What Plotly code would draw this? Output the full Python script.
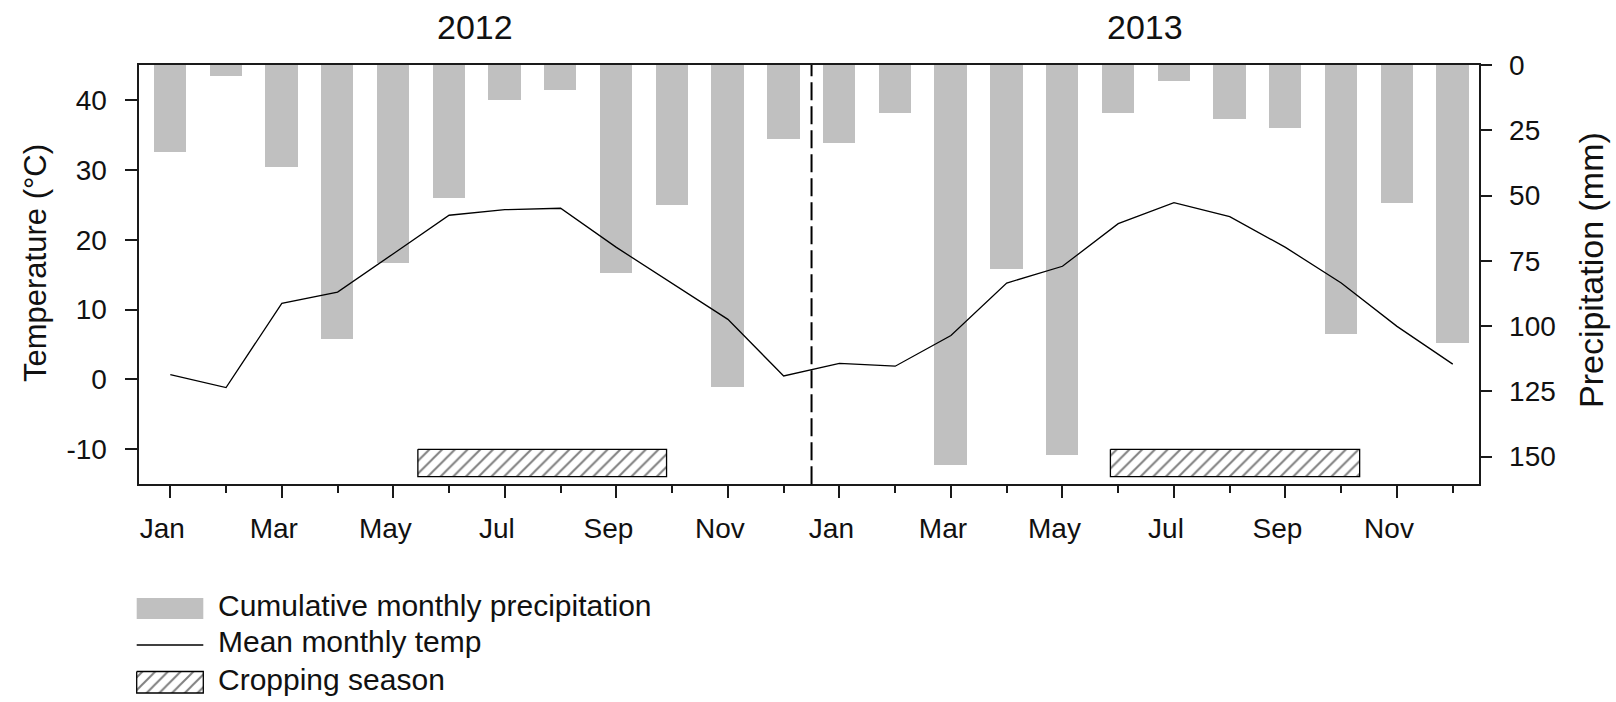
import plotly.graph_objects as go

# ---------------- data ----------------
month_labels = ["Jan", "Feb", "Mar", "Apr", "May", "Jun", "Jul", "Aug", "Sep", "Oct", "Nov", "Dec"]
years = ["2012", "2013"]
precip_2012 = [33.4, 4.2, 38.9, 104.9, 75.7, 51.1, 13.5, 9.5, 79.8, 53.7, 123.2, 28.2]
precip_2013 = [29.7, 18.3, 153.3, 78.0, 149.5, 18.5, 6.0, 20.8, 24.1, 103.0, 52.7, 106.6]
temp_2012 = [0.7, -1.15, 10.9, 12.5, 18.0, 23.5, 24.3, 24.5, 18.9, 13.7, 8.6, 0.5]
temp_2013 = [2.3, 1.9, 6.3, 13.8, 16.2, 22.3, 25.3, 23.3, 18.9, 13.8, 7.6, 2.2]
crop_start = [4.44, 16.86]   # month index (0 = Jan 2012)
crop_end = [8.90, 21.33]
crop_band = [-10.0, -13.9]    # temperature-axis band for the season boxes
year_split = 11.5
temp_ticks = [-10, 0, 10, 20, 30, 40]
temp_tick_text = ["-10", "0", "10", "20", "30", "40"]
precip_ticks = [0, 25, 50, 75, 100, 125, 150]

x_idx = list(range(24))
precip = precip_2012 + precip_2013
temp = temp_2012 + temp_2013
tick_idx = x_idx[::2]
tick_text = (month_labels * 2)[::2]

W, H = 1616, 702
L, R, T, B = 139.3, 1478.7, 65.0, 484.3
FONT = "Liberation Sans, Arial, sans-serif"
TXT = "#111111"
AX = "#1a1a1a"
GRAY = "#c0c0c0"
HATCH = dict(shape="/", size=9, solidity=0.22, fgcolor="black", bgcolor="white")


def px(xp):
    return xp / W


def py(yp):
    return 1 - yp / H


fig = go.Figure()

# precipitation bars (primary y, right side, reversed)
fig.add_trace(go.Bar(x=x_idx, y=precip, width=0.58, marker_color=GRAY,
                     marker_line_width=0, xaxis="x", yaxis="y", showlegend=False))

# temperature line (overlay axis, left side)
fig.add_trace(go.Scatter(x=x_idx, y=temp, mode="lines", line=dict(color="black", width=1.3),
                         xaxis="x", yaxis="y2", showlegend=False))

# cropping season boxes
for s, e in zip(crop_start, crop_end):
    fig.add_trace(go.Scatter(
        x=[s, e, e, s, s], y=[crop_band[0], crop_band[0], crop_band[1], crop_band[1], crop_band[0]],
        mode="lines", fill="toself", fillcolor="white", fillpattern=HATCH,
        line=dict(color="black", width=1.3), xaxis="x", yaxis="y2", showlegend=False))

# ---------- custom legend (auxiliary axes in pixel units) ----------
leg_top = 585
fig.add_trace(go.Scatter(x=[136.7, 203.3, 203.3, 136.7, 136.7], y=[598, 598, 619, 619, 598],
                         mode="lines", fill="toself", fillcolor=GRAY, line=dict(width=0, color=GRAY),
                         xaxis="x3", yaxis="y3", showlegend=False))
fig.add_trace(go.Scatter(x=[136.7, 203.3], y=[645, 645], mode="lines",
                         line=dict(color="black", width=1.3), xaxis="x3", yaxis="y3", showlegend=False))
fig.add_trace(go.Scatter(x=[136.7, 203.3, 203.3, 136.7, 136.7], y=[671.5, 671.5, 693, 693, 671.5],
                         mode="lines", fill="toself", fillcolor="white", fillpattern=HATCH,
                         line=dict(color="black", width=1.3), xaxis="x3", yaxis="y3", showlegend=False))
fig.add_trace(go.Scatter(x=[218, 218, 218], y=[608, 644, 682], mode="text",
                         text=["Cumulative monthly precipitation", "Mean monthly temp", "Cropping season"],
                         textposition="middle right", textfont=dict(family=FONT, size=30, color=TXT),
                         xaxis="x3", yaxis="y3", showlegend=False, hoverinfo="skip"))

fig.update_layout(
    width=W, height=H,
    margin=dict(l=0, r=0, t=0, b=0, autoexpand=False),
    paper_bgcolor="white", plot_bgcolor="rgba(0,0,0,0)",
    font=dict(family=FONT, color=TXT),
    bargap=0,
    xaxis=dict(domain=[px(L), px(R)], range=[-0.556, 23.465], anchor="y", automargin=False,
               tickmode="array", tickvals=tick_idx, ticktext=tick_text,
               ticks="outside", ticklen=12, tickwidth=1.5, tickcolor=AX,
               ticklabelshift=-8, ticklabelstandoff=6,
               tickfont=dict(size=28, family=FONT, color=TXT),
               minor=dict(tickmode="array", tickvals=x_idx, ticks="outside", ticklen=7,
                          tickwidth=1.5, tickcolor=AX, showgrid=False),
               showline=True, linecolor=AX, linewidth=1.6, mirror=True,
               showgrid=False, zeroline=False),
    yaxis=dict(domain=[py(B), py(T)], range=[160.6, 0], side="right", anchor="x", automargin=False,
               tickmode="array", tickvals=precip_ticks,
               ticks="outside", ticklen=11, tickwidth=1.5, tickcolor=AX,
               ticklabelstandoff=12,
               tickfont=dict(size=28, family=FONT, color=TXT),
               showline=True, linecolor=AX, linewidth=1.6,
               showgrid=False, zeroline=False),
    yaxis2=dict(domain=[py(B), py(T)], range=[-15, 45], side="left", overlaying="y", anchor="x",
                automargin=False,
                tickmode="array", tickvals=temp_ticks, ticktext=temp_tick_text,
                ticks="outside", ticklen=13, tickwidth=1.5, tickcolor=AX,
                ticklabelstandoff=12,
                tickfont=dict(size=28, family=FONT, color=TXT),
                showline=True, linecolor=AX, linewidth=1.6,
                showgrid=False, zeroline=False),
    xaxis3=dict(domain=[0, 0.5], range=[0, W / 2], visible=False, fixedrange=True, anchor="y3",
                automargin=False),
    yaxis3=dict(domain=[0, (H - leg_top) / H], range=[H, leg_top], visible=False,
                fixedrange=True, anchor="x3", automargin=False),
    shapes=[dict(type="line", xref="x", yref="y domain", x0=year_split, x1=year_split, y0=0, y1=1,
                 line=dict(color="black", width=2, dash="18px,6px"))],
    annotations=[
        dict(text=years[0], xref="x", yref="paper", x=(-0.556 + year_split) / 2, y=py(27),
             showarrow=False, font=dict(size=34, family=FONT, color=TXT), xanchor="center", yanchor="middle"),
        dict(text=years[1], xref="x", yref="paper", x=(year_split + 23.465) / 2, y=py(27),
             showarrow=False, font=dict(size=34, family=FONT, color=TXT), xanchor="center", yanchor="middle"),
        dict(text="Temperature (°C)", xref="paper", yref="paper", x=px(35), y=py(263),
             textangle=-90, showarrow=False, font=dict(size=31, family=FONT, color=TXT),
             xanchor="center", yanchor="middle"),
        dict(text="Precipitation (mm)", xref="paper", yref="paper", x=px(1591), y=py(270),
             textangle=-90, showarrow=False, font=dict(size=34, family=FONT, color=TXT),
             xanchor="center", yanchor="middle"),
    ],
)

fig.write_html("out.html", config={"displayModeBar": False},
               post_script="document.body.style.margin='0';document.body.style.overflow='hidden';")
